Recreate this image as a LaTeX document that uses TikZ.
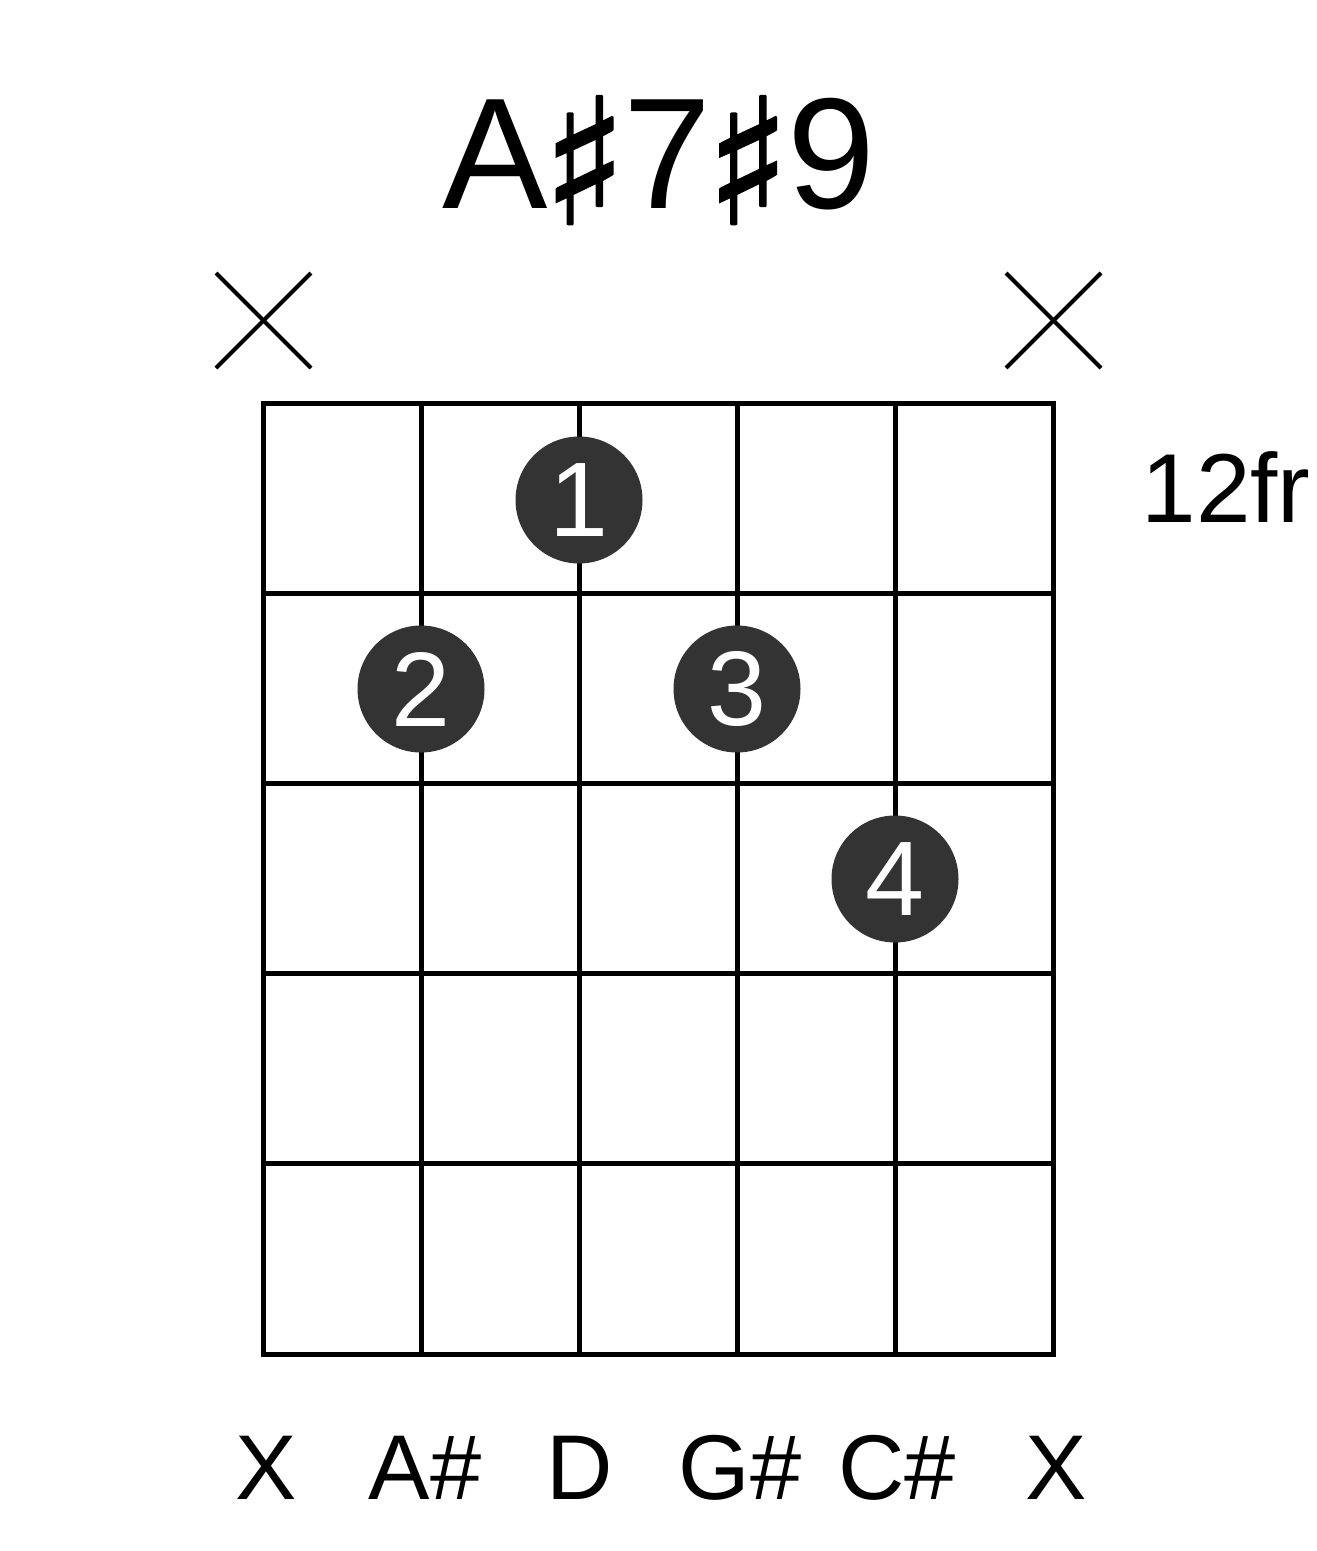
\documentclass[tikz,border=0pt]{standalone}
\usepackage{fontspec}
\setmainfont{Liberation Sans}
\newfontfamily\symfont[FakeBold=1.5]{DejaVu Sans}
\newcommand{\mysharp}{\kern-6pt\raisebox{-16pt}{\fontsize{175}{175}\selectfont\symfont ♯}\kern-3pt}
\definecolor{dotgray}{HTML}{333333}
\begin{document}
\begin{tikzpicture}[x=1pt,y=-1pt,
  gridline/.style={line width=5pt,line cap=rect},
  xmark/.style={line width=4.2pt},
  fingerdot/.style={circle,fill=dotgray,minimum size=127pt,inner sep=0pt,text=white,font=\fontsize{106}{106}\selectfont},
  strlabel/.style={anchor=base,font=\fontsize{92}{92}\selectfont},
  title/.style={anchor=base,font=\fontsize{158}{158}\selectfont}]
\useasboundingbox (0,0) rectangle (1317,1551);
% grid
\foreach \i in {0,...,5} {
  \draw[gridline] (263+158*\i,403) -- (263+158*\i,1354);
  \draw[gridline] (263,403+190.2*\i) -- (1053,403+190.2*\i);
}
% title
\node[title] (ttl) at (659,208) {A\mysharp 7\mysharp 9};
% fret label
\node[anchor=base west,font=\fontsize{98}{98}\selectfont] (fr) at (1138,522) {12fr};
% muted marks
\coordinate (m1a) at (216,273); \coordinate (m1b) at (311,368);
\coordinate (m1c) at (216,368); \coordinate (m1d) at (311,273);
\draw[xmark] (m1a) -- (m1b); \draw[xmark] (m1c) -- (m1d);
\coordinate (m6a) at (1006,273); \coordinate (m6b) at (1101,368);
\coordinate (m6c) at (1006,368); \coordinate (m6d) at (1101,273);
\draw[xmark] (m6a) -- (m6b); \draw[xmark] (m6c) -- (m6d);
% finger dots
\node[fingerdot] (d1) at (579,500) {1};
\node[fingerdot] (d2) at (421,689) {2};
\node[fingerdot] (d3) at (737,689) {3};
\node[fingerdot] (d4) at (895,879) {4};
% string labels
\node[strlabel] (s1) at (266,1499) {X};
\node[strlabel] (s2) at (425,1499) {A\#};
\node[strlabel] (s3) at (580,1499) {D};
\node[strlabel] (s4) at (740,1499) {G\#};
\node[strlabel] (s5) at (897,1499) {C\#};
\node[strlabel] (s6) at (1056,1499) {X};
\end{tikzpicture}
\end{document}
